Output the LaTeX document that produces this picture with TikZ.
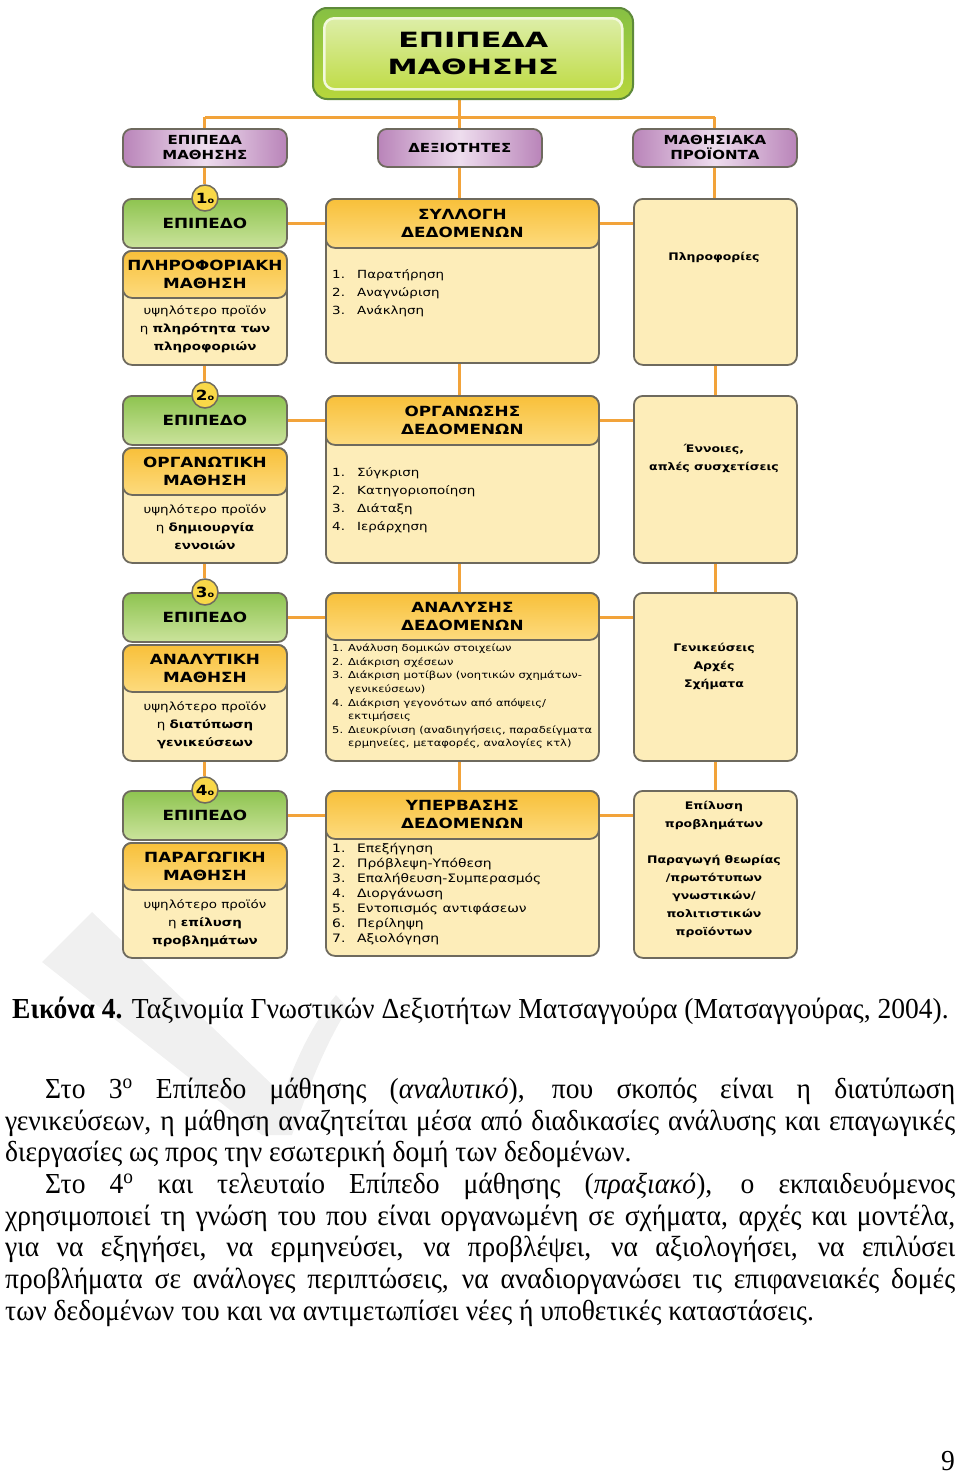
\documentclass[tikz,border=0pt]{standalone}
\usepackage{fontspec}
\usepackage{graphicx}
\setmainfont[FakeStretch=0.95]{Liberation Serif}
\newfontfamily\dg[FakeStretch=1.2]{DejaVu Sans}
\usetikzlibrary{backgrounds}
\definecolor{orl}{HTML}{F2A33A}
\definecolor{bgr}{HTML}{6E6A5E}
\definecolor{grtop}{HTML}{8EC450}
\definecolor{grbot}{HTML}{CBE39C}
\definecolor{ortop}{HTML}{F8C03A}
\definecolor{orbot}{HTML}{FDDB7E}
\definecolor{cream}{HTML}{FDEDB9}
\definecolor{pue}{HTML}{B984B9}
\definecolor{pum}{HTML}{EEDDEE}
\definecolor{circ}{HTML}{F9D848}
\definecolor{tgo}{HTML}{5E8A3A}
\definecolor{tgtop}{HTML}{86C043}
\definecolor{tgbot}{HTML}{B7D63C}
\definecolor{titop}{HTML}{DDEEA8}
\definecolor{tibot}{HTML}{C0DC48}
\definecolor{tirim}{HTML}{F2F8DC}
\definecolor{wm}{HTML}{F0F0F0}
\tikzset{
 bx/.style={draw=bgr, line width=1.8pt, rounded corners=9pt, anchor=north west, inner sep=0pt, align=center, text=black},
 grn/.style={bx, top color=grtop, bottom color=grbot, minimum width=164pt, minimum height=49pt, font=\dg\bfseries\fontsize{14}{18}\selectfont},
 orh/.style={bx, top color=ortop, bottom color=orbot, font=\dg\bfseries\fontsize{14}{18}\selectfont},
 crm/.style={bx, fill=cream},
 pur/.style={bx, left color=pue, right color=pue, middle color=pum, minimum width=164pt, minimum height=38pt, font=\dg\bfseries\fontsize{12.5}{15}\selectfont},
 numc/.style={circle, draw=bgr, line width=1.5pt, fill=circ, minimum size=26pt, inner sep=0pt, font=\dg\bfseries\fontsize{14}{14}\selectfont},
 ltxt/.style={align=center, inner sep=0pt, font=\dg\fontsize{11.2}{18}\selectfont},
 lst/.style={align=left, anchor=west, inner sep=0pt, font=\dg\fontsize{11.2}{18}\selectfont},
 rtxt/.style={align=center, inner sep=0pt, font=\dg\bfseries\fontsize{10.4}{18}\selectfont},
 conn/.style={draw=orl, line width=3pt},
 body/.style={anchor=base west, inner sep=0pt, font=\fontsize{29}{31}\selectfont},
}
\newcommand\nb[1]{\makebox[25pt][l]{#1}}
\newcommand\ord[1]{#1{\fontsize{8}{8}\selectfont ο}}
\begin{document}
\begin{tikzpicture}[x=1pt,y=-1pt]
\useasboundingbox (0,0) rectangle (960,1475);
% watermark
\fill[wm] (42,962) -- (92,912) -- (283,1095) .. controls (298,1055) and (312,1025) .. (336,995) -- (348,1008) .. controls (322,1050) and (306,1095) .. (292,1135) -- (262,1135) -- cycle;
% title
\node[bx, draw=tgo, line width=2pt, rounded corners=14pt, top color=tgtop, bottom color=tgbot, minimum width=320pt, minimum height=91pt] (top) at (312,7) {};
\node[bx, draw=tirim, line width=2.5pt, rounded corners=10pt, top color=titop, bottom color=tibot, minimum width=298pt, minimum height=71pt, font=\dg\bfseries\fontsize{21}{27}\selectfont] (title) at (323,17) {\scalebox{1.2}[1]{ΕΠΙΠΕΔΑ}\\\scalebox{1.2}[1]{ΜΑΘΗΣΗΣ}};
% purple
\node[pur] (p1) at (122,128) {ΕΠΙΠΕΔΑ\\ΜΑΘΗΣΗΣ};
\node[pur] (p2) at (377,128) {ΔΕΞΙΟΤΗΤΕΣ};
\node[pur] (p3) at (632,128) {ΜΑΘΗΣΙΑΚΑ\\ΠΡΟΪΟΝΤΑ};
% row 1
\node[grn] (g1) at (122,198) {ΕΠΙΠΕΔΟ};
\node[crm, minimum width=164pt, minimum height=114pt] (c1) at (122,250) {};
\node[orh, minimum width=164pt, minimum height=47pt] (o1) at (122,250) {ΠΛΗΡΟΦΟΡΙΑΚΗ\\ΜΑΘΗΣΗ};
\node[ltxt] (t1) at (205,329) {υψηλότερο προϊόν\\η \textbf{πληρότητα των}\\\textbf{πληροφοριών}};
\node[numc] (n1) at (205,198) {\ord{1}};
\node[crm, minimum width=273pt, minimum height=164pt] (m1) at (325,198) {};
\node[orh, minimum width=273pt, minimum height=49pt] (h1) at (325,198) {ΣΥΛΛΟΓΗ\\ΔΕΔΟΜΕΝΩΝ};
\node[lst] (s1) at (332,293) {\nb{1.}Παρατήρηση\\\nb{2.}Αναγνώριση\\\nb{3.}Ανάκληση};
\node[crm, minimum width=163pt, minimum height=166pt] (r1) at (633,198) {};
\node[rtxt] (q1) at (714,257) {Πληροφορίες};
% row 2
\node[grn] (g2) at (122,395) {ΕΠΙΠΕΔΟ};
\node[crm, minimum width=164pt, minimum height=115pt] (c2) at (122,447) {};
\node[orh, minimum width=164pt, minimum height=47pt] (o2) at (122,447) {ΟΡΓΑΝΩΤΙΚΗ\\ΜΑΘΗΣΗ};
\node[ltxt] (t2) at (205,527) {υψηλότερο προϊόν\\η \textbf{δημιουργία}\\\textbf{εννοιών}};
\node[numc] (n2) at (205,395) {\ord{2}};
\node[crm, minimum width=273pt, minimum height=167pt] (m2) at (325,395) {};
\node[orh, minimum width=273pt, minimum height=49pt] (h2) at (325,395) {ΟΡΓΑΝΩΣΗΣ\\ΔΕΔΟΜΕΝΩΝ};
\node[lst] (s2) at (332,500) {\nb{1.}Σύγκριση\\\nb{2.}Κατηγοριοποίηση\\\nb{3.}Διάταξη\\\nb{4.}Ιεράρχηση};
\node[crm, minimum width=163pt, minimum height=167pt] (r2) at (633,395) {};
\node[rtxt] (q2) at (714,458) {Έννοιες,\\απλές συσχετίσεις};
% row 3
\node[grn] (g3) at (122,592) {ΕΠΙΠΕΔΟ};
\node[crm, minimum width=164pt, minimum height=116pt] (c3) at (122,644) {};
\node[orh, minimum width=164pt, minimum height=47pt] (o3) at (122,644) {ΑΝΑΛΥΤΙΚΗ\\ΜΑΘΗΣΗ};
\node[ltxt] (t3) at (205,725) {υψηλότερο προϊόν\\η \textbf{διατύπωση}\\\textbf{γενικεύσεων}};
\node[numc] (n3) at (205,592) {\ord{3}};
\node[crm, minimum width=273pt, minimum height=168pt] (m3) at (325,592) {};
\node[orh, minimum width=273pt, minimum height=47pt] (h3) at (325,592) {ΑΝΑΛΥΣΗΣ\\ΔΕΔΟΜΕΝΩΝ};
\node[lst, font=\dg\fontsize{9.6}{13.6}\selectfont] (s3) at (332,696.5) {1. Ανάλυση δομικών στοιχείων\\2. Διάκριση σχέσεων\\3. Διάκριση μοτίβων (νοητικών σχημάτων-\\\hspace*{16pt}γενικεύσεων)\\4. Διάκριση γεγονότων από απόψεις/\\\hspace*{16pt}εκτιμήσεις\\5. Διευκρίνιση (αναδιηγήσεις, παραδείγματα\\\hspace*{16pt}ερμηνείες, μεταφορές, αναλογίες κτλ)};
\node[crm, minimum width=163pt, minimum height=168pt] (r3) at (633,592) {};
\node[rtxt] (q3) at (714,666) {Γενικεύσεις\\Αρχές\\Σχήματα};
% row 4
\node[grn] (g4) at (122,790) {ΕΠΙΠΕΔΟ};
\node[crm, minimum width=164pt, minimum height=115pt] (c4) at (122,842) {};
\node[orh, minimum width=164pt, minimum height=47pt] (o4) at (122,842) {ΠΑΡΑΓΩΓΙΚΗ\\ΜΑΘΗΣΗ};
\node[ltxt] (t4) at (205,923) {υψηλότερο προϊόν\\η \textbf{επίλυση}\\\textbf{προβλημάτων}};
\node[numc] (n4) at (205,790) {\ord{4}};
\node[crm, minimum width=273pt, minimum height=165pt] (m4) at (325,790) {};
\node[orh, minimum width=273pt, minimum height=48pt] (h4) at (325,790) {ΥΠΕΡΒΑΣΗΣ\\ΔΕΔΟΜΕΝΩΝ};
\node[lst, font=\dg\fontsize{11.6}{15}\selectfont] (s4) at (332,894) {\nb{1.}Επεξήγηση\\\nb{2.}Πρόβλεψη-Υπόθεση\\\nb{3.}Επαλήθευση-Συμπερασμός\\\nb{4.}Διοργάνωση\\\nb{5.}Εντοπισμός αντιφάσεων\\\nb{6.}Περίληψη\\\nb{7.}Αξιολόγηση};
\node[crm, minimum width=163pt, minimum height=167pt] (r4) at (633,790) {};
\node[rtxt] (q4) at (714,869) {Επίλυση\\προβλημάτων\\[18pt]Παραγωγή θεωρίας\\/πρωτότυπων\\γνωστικών/\\πολιτιστικών\\προϊόντων};
% connectors
\begin{scope}[on background layer]
\coordinate (hub) at (459,117);
\draw[conn] (hub |- top.south) -- (hub);
\draw[conn] (p1.north |- hub) -- (p3.north |- hub);
\draw[conn] (p1.north |- hub) -- (p1.north);
\draw[conn] (p2.north |- hub) -- (p2.north);
\draw[conn] (p3.north |- hub) -- (p3.north);
\draw[conn] (p1.south) -- (p1.south |- n1.north);
\draw[conn] (p2.south) -- (p2.south |- m1.north);
\draw[conn] (p3.south) -- (p3.south |- r1.north);
\draw[conn] (c1.south) -- (c1.south |- n2.north);
\draw[conn] (c2.south) -- (c2.south |- n3.north);
\draw[conn] (c3.south) -- (c3.south |- n4.north);
\draw[conn] (p2.south |- m1.south) -- (p2.south |- m2.north);
\draw[conn] (p2.south |- m2.south) -- (p2.south |- m3.north);
\draw[conn] (p2.south |- m3.south) -- (p2.south |- m4.north);
\draw[conn] (r1.south) -- (r2.north);
\draw[conn] (r2.south) -- (r3.north);
\draw[conn] (r3.south) -- (r4.north);
\draw[conn] (g1.east) -- (g1.east -| m1.west);
\draw[conn] (g1.east -| m1.east) -- (g1.east -| r1.west);
\draw[conn] (g2.east) -- (g2.east -| m2.west);
\draw[conn] (g2.east -| m2.east) -- (g2.east -| r2.west);
\draw[conn] (g3.east) -- (g3.east -| m3.west);
\draw[conn] (g3.east -| m3.east) -- (g3.east -| r3.west);
\draw[conn] (g4.east) -- (g4.east -| m4.west);
\draw[conn] (g4.east -| m4.east) -- (g4.east -| r4.west);
\end{scope}
% body text
\node[body] (b0) at (12,1018) {\textbf{Εικόνα 4.} Ταξινομία Γνωστικών Δεξιοτήτων Ματσαγγούρα (Ματσαγγούρας, 2004).};
\node[body] (b1) at (45,1098) {\makebox[910pt][s]{Στο 3\textsuperscript{o} Επίπεδο μάθησης (\textit{αναλυτικό}), που σκοπός είναι η διατύπωση}};
\node[body] (b2) at (5,1130) {\makebox[950pt][s]{γενικεύσεων, η μάθηση αναζητείται μέσα από διαδικασίες ανάλυσης και επαγωγικές}};
\node[body] (b3) at (5,1161) {διεργασίες ως προς την εσωτερική δομή των δεδομένων.};
\node[body] (b4) at (45,1193) {\makebox[910pt][s]{Στο 4\textsuperscript{o} και τελευταίο Επίπεδο μάθησης (\textit{πραξιακό}), ο εκπαιδευόμενος}};
\node[body] (b5) at (5,1225) {\makebox[950pt][s]{χρησιμοποιεί τη γνώση του που είναι οργανωμένη σε σχήματα, αρχές και μοντέλα,}};
\node[body] (b6) at (5,1256) {\makebox[950pt][s]{για να εξηγήσει, να ερμηνεύσει, να προβλέψει, να αξιολογήσει, να επιλύσει}};
\node[body] (b7) at (5,1288) {\makebox[950pt][s]{προβλήματα σε ανάλογες περιπτώσεις, να αναδιοργανώσει τις επιφανειακές δομές}};
\node[body] (b8) at (5,1320) {των δεδομένων του και να αντιμετωπίσει νέες ή υποθετικές καταστάσεις.};
\node[body] (pg) at (941,1470) {9};
\end{tikzpicture}
\end{document}
